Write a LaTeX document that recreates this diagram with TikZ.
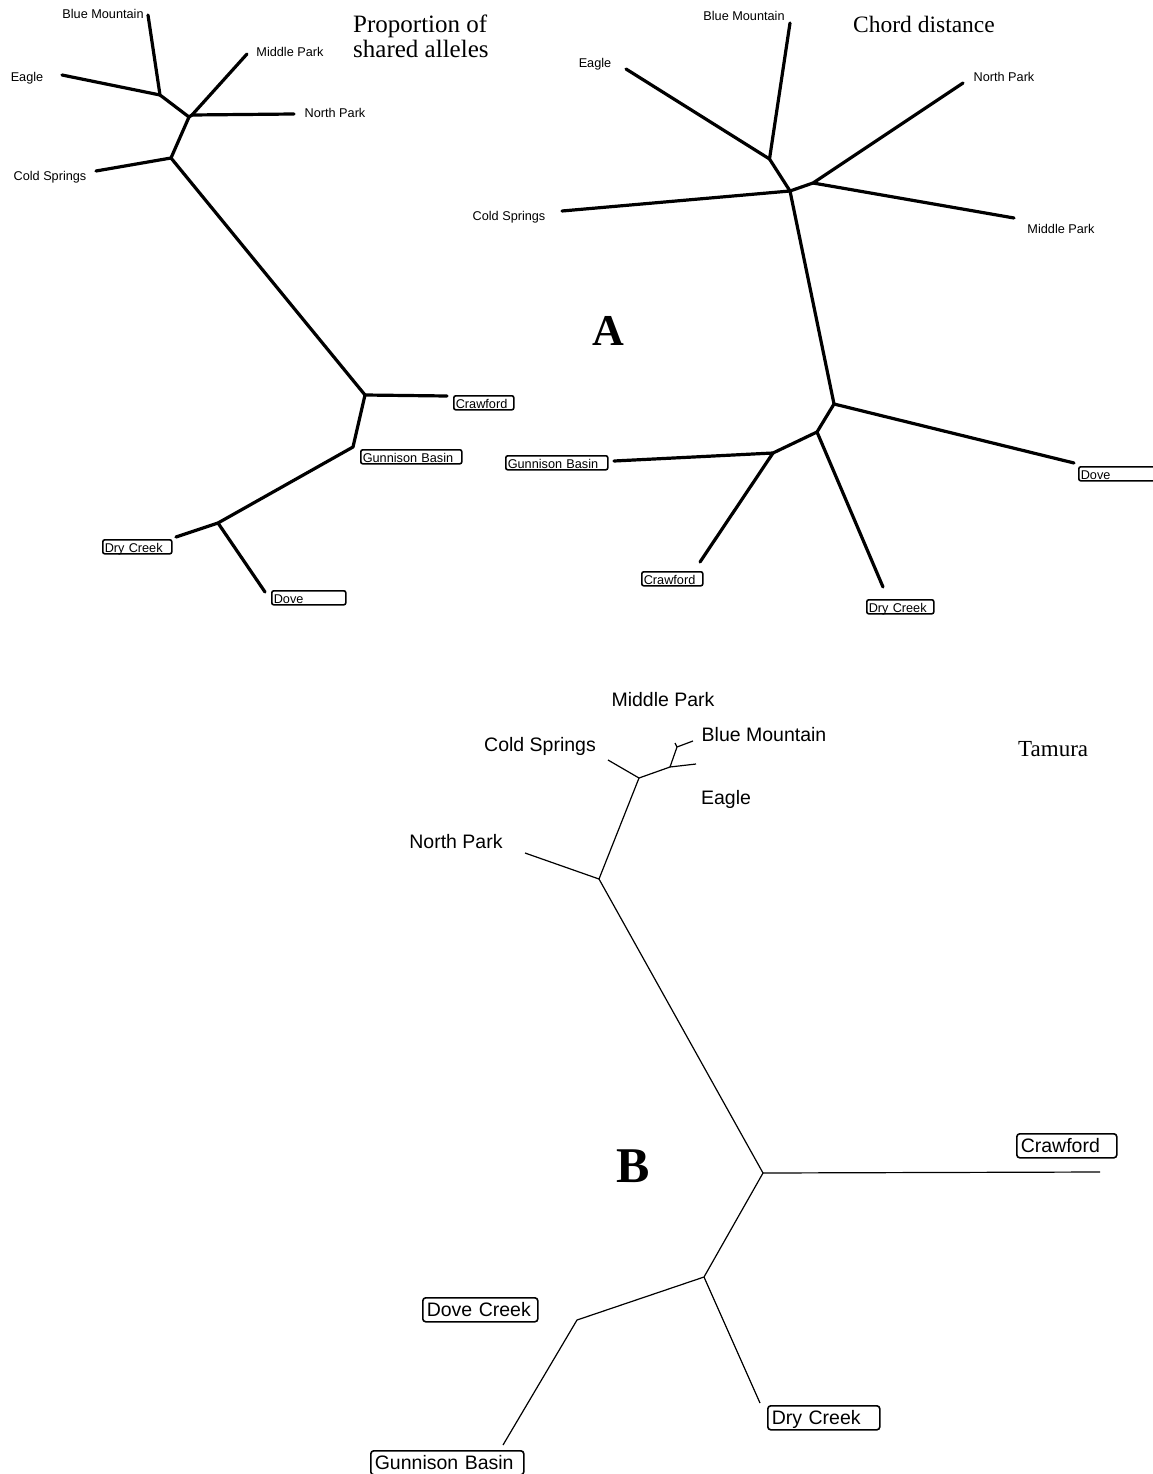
\documentclass[tikz,border=0pt]{standalone}
\usepackage{fontspec}
\setmainfont{Liberation Serif}
\newfontfamily\arialf{Liberation Sans}
\begin{document}
\begin{tikzpicture}[x=1pt,y=-1pt,
  thick branch/.style={line width=3.2pt,line cap=round,line join=round},
  thin branch/.style={line width=1.2pt,line join=round},
  lbl/.style={inner sep=0pt,font=\arialf\fontsize{12.7}{14}\selectfont},
  biglbl/.style={inner sep=0pt,font=\arialf\fontsize{19.5}{22}\selectfont},
  sbox/.style={draw,line width=1.6pt,rounded corners=2pt,anchor=north west,
    inner xsep=2pt,inner ysep=0.5pt,text height=12.3pt,text depth=0.7pt,align=left,
    font=\arialf\fontsize{12.7}{14}\selectfont},
  lbox/.style={draw,line width=1.6pt,rounded corners=3pt,anchor=north west,
    inner xsep=4pt,inner ysep=1pt,text height=17.5pt,text depth=4.5pt,align=left,
    font=\arialf\fontsize{19.5}{22}\selectfont},
  title/.style={inner sep=0pt,font=\fontsize{23.5}{25}\selectfont}]
\useasboundingbox (0,0) rectangle (1152,1474);
\fill[white] (0,0) rectangle (1152,1474);

% ---------------- Tree 1: Proportion of shared alleles
\coordinate (aBM) at (148,15);
\coordinate (an1) at (160,95);
\coordinate (aEA) at (62,75);
\coordinate (an2) at (189,117);
\coordinate (an2b) at (192,115);
\coordinate (aMP) at (247,54);
\coordinate (aNP) at (294,114);
\coordinate (an3) at (171,158);
\coordinate (aCS) at (96,171);
\coordinate (an4) at (365,395);
\coordinate (aCR) at (447,396);
\coordinate (an5) at (353,447);
\coordinate (an6) at (218,523);
\coordinate (aDC) at (176,537);
\coordinate (aDV) at (265,592);
\draw[thick branch] (aBM) -- (an1) -- (an2) -- (an3) -- (an4) -- (an5) -- (an6) -- (aDC);
\draw[thick branch] (aEA) -- (an1);
\draw[thick branch] (an2) -- (an2b) -- (aMP);
\draw[thick branch] (an2b) -- (aNP);
\draw[thick branch] (aCS) -- (an3);
\draw[thick branch] (an4) -- (aCR);
\draw[thick branch] (an6) -- (aDV);

\node[lbl] (aBMl) at (103,14) {Blue Mountain};
\node[lbl] (aEAl) at (27,78) {Eagle};
\node[lbl] (aMPl) at (290,52) {Middle Park};
\node[lbl] (aNPl) at (335,113) {North Park};
\node[lbl] (aCSl) at (50,177) {Cold Springs};
\node[sbox,minimum width=60pt,text width=56pt] (aCRb) at (453,395) {Crawford};
\node[sbox,minimum width=101pt,text width=97pt] (aGBb) at (360,449) {Gunnison Basin};
\node[sbox,minimum width=69pt,text width=65pt] (aDCb) at (102,539) {Dry Creek};
\node[sbox,minimum width=74pt,text width=70pt] (aDVb) at (271,590) {Dove};

\node[title,anchor=north west,align=left,font=\fontsize{25}{25}\selectfont] (aT) at (353,15) {Proportion of\\shared alleles};

% ---------------- Tree 2: Chord distance
\coordinate (bBM) at (790,23);
\coordinate (bn1) at (769.5,159);
\coordinate (bEA) at (626,69);
\coordinate (bn2) at (790,191);
\coordinate (bCS) at (562,211);
\coordinate (bn3) at (813,183);
\coordinate (bNP) at (963,83);
\coordinate (bMP) at (1014,218);
\coordinate (bn4) at (834,404);
\coordinate (bDV) at (1074,463);
\coordinate (bn5) at (817,432);
\coordinate (bn6) at (773,453);
\coordinate (bGB) at (614,461);
\coordinate (bCR) at (700,562);
\coordinate (bDC) at (883,587);
\draw[thick branch] (bBM) -- (bn1) -- (bn2) -- (bn4) -- (bn5) -- (bn6) -- (bGB);
\draw[thick branch] (bEA) -- (bn1);
\draw[thick branch] (bCS) -- (bn2) -- (bn3) -- (bNP);
\draw[thick branch] (bn3) -- (bMP);
\draw[thick branch] (bn4) -- (bDV);
\draw[thick branch] (bn6) -- (bCR);
\draw[thick branch] (bn5) -- (bDC);

\node[lbl] (bBMl) at (744,15.5) {Blue Mountain};
\node[lbl] (bEAl) at (595,64) {Eagle};
\node[lbl] (bNPl) at (1004,77) {North Park};
\node[lbl] (bCSl) at (509,217) {Cold Springs};
\node[lbl] (bMPl) at (1061,229) {Middle Park};
\node[sbox,minimum width=102pt,text width=98pt] (bGBb) at (505,455) {Gunnison Basin};
\node[sbox,minimum width=92pt,text width=88pt] (bDVb) at (1078,466) {Dove};
\node[sbox,minimum width=61pt,text width=57pt] (bCRb) at (641,571) {Crawford};
\node[sbox,minimum width=67pt,text width=63pt] (bDCb) at (866,599) {Dry Creek};

\node[title,anchor=base west] (bT) at (853,33) {Chord distance};
\node[inner sep=0pt,anchor=base,font=\fontsize{44}{44}\selectfont\bfseries] (Al) at (608,345) {A};

% ---------------- Tree 3: Tamura
\coordinate (tCS) at (608,760);
\coordinate (tn1) at (639,778);
\coordinate (tn0) at (599,879);
\coordinate (tNP) at (525,853);
\coordinate (tn2) at (670,767);
\coordinate (tEA) at (696,764);
\coordinate (tn3) at (677,747);
\coordinate (tBM) at (693,741);
\coordinate (tMP) at (675,743);
\coordinate (tn4) at (763,1173);
\coordinate (tCR) at (1100,1172);
\coordinate (tn5) at (704,1277);
\coordinate (tn6) at (577,1320);
\coordinate (tGB) at (503,1445);
\coordinate (tDC) at (760,1403);
\draw[thin branch] (tCS) -- (tn1) -- (tn2) -- (tEA);
\draw[thin branch] (tn2) -- (tn3) -- (tBM);
\draw[thin branch] (tn3) -- (tMP);
\draw[thin branch] (tn1) -- (tn0) -- (tNP);
\draw[thin branch] (tn0) -- (tn4) -- (tCR);
\draw[thin branch] (tn4) -- (tn5) -- (tn6) -- (tGB);
\draw[thin branch] (tn5) -- (tDC);

\node[biglbl] (tMPl) at (663,700) {Middle Park};
\node[biglbl] (tBMl) at (764,735) {Blue Mountain};
\node[biglbl] (tCSl) at (540,746) {Cold Springs};
\node[biglbl] (tEAl) at (726,799) {Eagle};
\node[biglbl] (tNPl) at (456,842) {North Park};
\node[lbox,minimum width=100pt,text width=92pt] (tCRb) at (1016,1133) {Crawford};
\node[lbox,minimum width=115pt,text width=107pt] (tDVb) at (422,1297) {Dove Creek};
\node[lbox,minimum width=112pt,text width=104pt] (tDCb) at (767,1405) {Dry Creek};
\node[lbox,minimum width=153pt,text width=145pt] (tGBb) at (370,1450) {Gunnison Basin};

\node[title,anchor=base west,font=\fontsize{23}{25}\selectfont] (tT) at (1018,756) {Tamura};
\node[inner sep=0pt,anchor=base,font=\fontsize{50}{50}\selectfont\bfseries] (Bl) at (633,1182) {B};
\end{tikzpicture}
\end{document}
